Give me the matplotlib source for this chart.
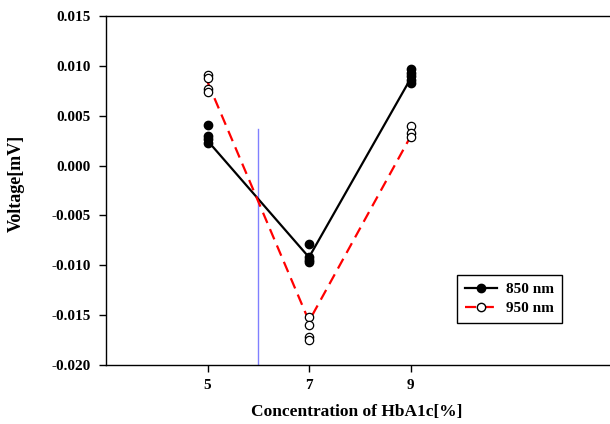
import matplotlib
matplotlib.use("Agg")
import matplotlib.pyplot as plt
from matplotlib.lines import Line2D

plt.rcParams['font.family'] = ['Liberation Serif', 'DejaVu Serif']
plt.rcParams['font.weight'] = 'bold'

# Data
concentrations = [5, 7, 9]
pts_850 = {
    5: [0.0041, 0.0030, 0.0027, 0.0023],
    7: [-0.0079, -0.0092, -0.0095, -0.0097],
    9: [0.0097, 0.0093, 0.0090, 0.0086, 0.0083],
}
pts_950 = {
    5: [0.0091, 0.0088, 0.0077, 0.0074],
    7: [-0.0152, -0.0160, -0.0172, -0.0175],
    9: [0.0040, 0.0033, 0.0029],
}
line_850 = [0.0025, -0.0092, 0.0087]
line_950 = [0.0084, -0.0156, 0.0029]
cutoff_x = 6.0
cutoff_top = 0.0037
y_ticks = [0.015, 0.010, 0.005, 0.000, -0.005, -0.010, -0.015, -0.020]
x_ticks = [5, 7, 9]

fig = plt.figure(figsize=(6.10, 4.24), dpi=100)
ax = fig.add_axes([106/610, 59/424, 506/610, 349/424])

ax.plot(concentrations, line_850, color='black', lw=1.6, zorder=2)
ax.plot(concentrations, line_950, color='red', lw=1.6, ls=(0, (5, 3)), zorder=2)

for c in concentrations:
    ax.plot([c]*len(pts_850[c]), pts_850[c], 'o', color='black', ms=6, zorder=3)
    ax.plot([c]*len(pts_950[c]), pts_950[c], 'o', mfc='white', mec='black', mew=0.9, ms=6, zorder=3)

ax.plot([cutoff_x, cutoff_x], [-0.020, cutoff_top], color='#8080ff', lw=1.0, zorder=1)

ax.set_xlim(3, 3 + 506/50.75)
ax.set_ylim(-0.020, 0.015)
ax.set_xticks(x_ticks)
ax.set_xticklabels([str(t) for t in x_ticks])
ax.set_yticks(y_ticks)
ax.set_yticklabels([f"{t:.3f}" for t in y_ticks])
ax.tick_params(direction='out', length=5, width=1, labelsize=11, pad=6)
ax.tick_params(axis='x', pad=5)
for s in ax.spines.values():
    s.set_linewidth(1.0)

fig.text(357/610, 1 - 412/424, 'Concentration of HbA1c[%]', fontsize=12.5,
         fontweight='bold', ha='center', va='center')
fig.text(16/610, 1 - 183/424, 'Voltage[mV]', fontsize=13, fontweight='bold',
         ha='center', va='center', rotation=90)

handles = [
    Line2D([0], [0], color='black', lw=1.6, marker='o', ms=6, mfc='black', mec='black'),
    Line2D([0], [0], color='red', lw=1.6, ls=(0, (5, 3)), marker='o', ms=6, mfc='white', mec='black'),
]
leg = ax.legend(handles, ['850 nm', '950 nm'], loc='upper left',
                bbox_to_anchor=((457-106)/506, (365-275)/349),
                borderaxespad=0,
                fancybox=False, edgecolor='black', framealpha=1,
                prop={'weight': 'bold', 'size': 11}, handlelength=2.1,
                borderpad=0.5, labelspacing=0.35, handletextpad=0.6)
leg.get_frame().set_linewidth(1.0)

fig.savefig('out.png', dpi=100)
